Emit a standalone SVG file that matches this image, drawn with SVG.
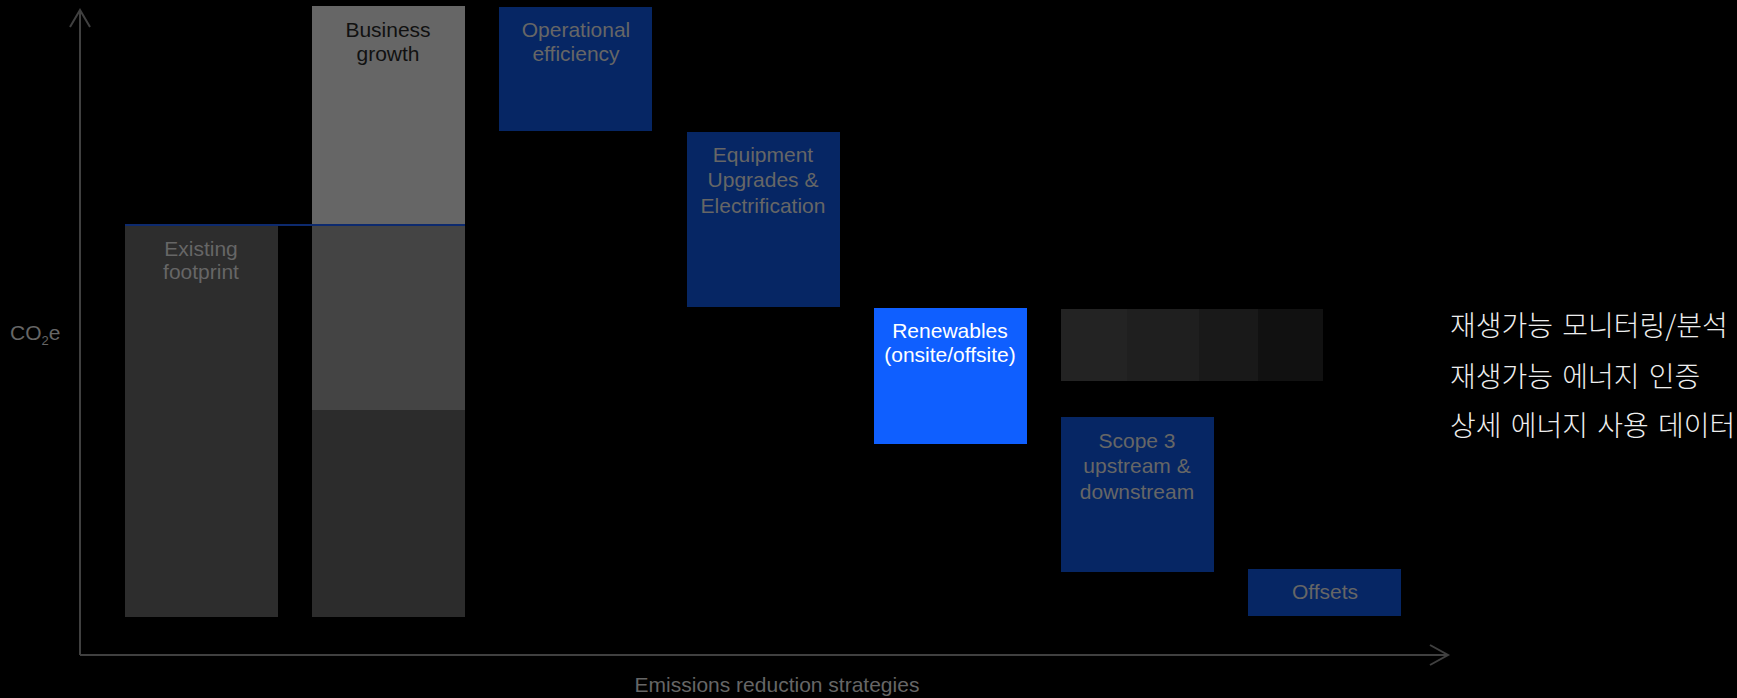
<svg xmlns="http://www.w3.org/2000/svg" width="1737" height="698" viewBox="0 0 1737 698">
<defs>
<style>
.t{font-family:"Liberation Sans",Arial,sans-serif;font-size:21px;text-anchor:middle;}
.g{fill:#666666;}
.k{font-family:"Noto Sans CJK KR","Noto Sans",sans-serif;font-size:28px;font-weight:300;fill:#eeeeee;word-spacing:3px;}
.navy{fill:#062664;}
.ax{stroke:#404040;stroke-width:2;fill:none;}
</style>
</defs>
<rect width="1737" height="698" fill="#000000"/>
<g id="axes">
<path class="ax" d="M80,655 V10 M70,27 L80,10 L90,27"/>
<path class="ax" d="M80,655 H1448 M1430,645 L1448,655 L1430,665"/>
</g>
<text class="t g" x="10" y="340" style="text-anchor:start">CO<tspan font-size="13" dy="5">2</tspan><tspan dy="-5">e</tspan></text>
<text class="t g" x="777" y="692">Emissions reduction strategies</text>
<g id="existing">
<rect x="125" y="225" width="153" height="392" fill="#2d2d2d"/>
<text class="t g" x="201" y="256">Existing</text>
<text class="t g" x="201" y="279">footprint</text>
</g>
<g id="growth">
<rect x="312" y="6" width="153" height="219" fill="#666666"/>
<rect x="312" y="225" width="153" height="185" fill="#444444"/>
<rect x="312" y="410" width="153" height="207" fill="#2c2c2c"/>
<text class="t" fill="#111111" x="388" y="37">Business</text>
<text class="t" fill="#111111" x="388" y="61">growth</text>
</g>
<g id="connectors">
<line x1="125" y1="225" x2="465" y2="225" stroke="#0d2a6e" stroke-width="2"/>
</g>
<g id="operational">
<rect class="navy" x="499" y="7" width="153" height="124"/>
<text class="t g" x="576" y="37">Operational</text>
<text class="t g" x="576" y="61">efficiency</text>
</g>
<g id="equipment">
<rect class="navy" x="687" y="132" width="153" height="175"/>
<text class="t g" x="763" y="162">Equipment</text>
<text class="t g" x="763" y="187">Upgrades &amp;</text>
<text class="t g" x="763" y="213">Electrification</text>
</g>
<g id="renewables">
<rect x="874" y="308" width="153" height="136" fill="#0f5fff"/>
<text class="t" fill="#ffffff" x="950" y="338">Renewables</text>
<text class="t" fill="#ffffff" x="950" y="362">(onsite/offsite)</text>
</g>
<g id="strip">
<rect x="1061" y="309" width="66" height="72" fill="#232323"/>
<rect x="1127" y="309" width="72" height="72" fill="#1f1f1f"/>
<rect x="1199" y="309" width="59" height="72" fill="#191919"/>
<rect x="1258" y="309" width="65" height="72" fill="#111111"/>
</g>
<g id="scope3">
<rect class="navy" x="1061" y="417" width="153" height="155"/>
<text class="t g" x="1137" y="448">Scope 3</text>
<text class="t g" x="1137" y="473">upstream &amp;</text>
<text class="t g" x="1137" y="499">downstream</text>
</g>
<g id="offsets">
<rect class="navy" x="1248" y="569" width="153" height="47"/>
<text class="t g" x="1325" y="599">Offsets</text>
</g>
<g id="notes">
<text class="k" x="1450" y="336">재생가능 모니터링/분석</text>
<text class="k" x="1450" y="387">재생가능 에너지 인증</text>
<text class="k" x="1450" y="436">상세 에너지 사용 데이터</text>
</g>
</svg>
